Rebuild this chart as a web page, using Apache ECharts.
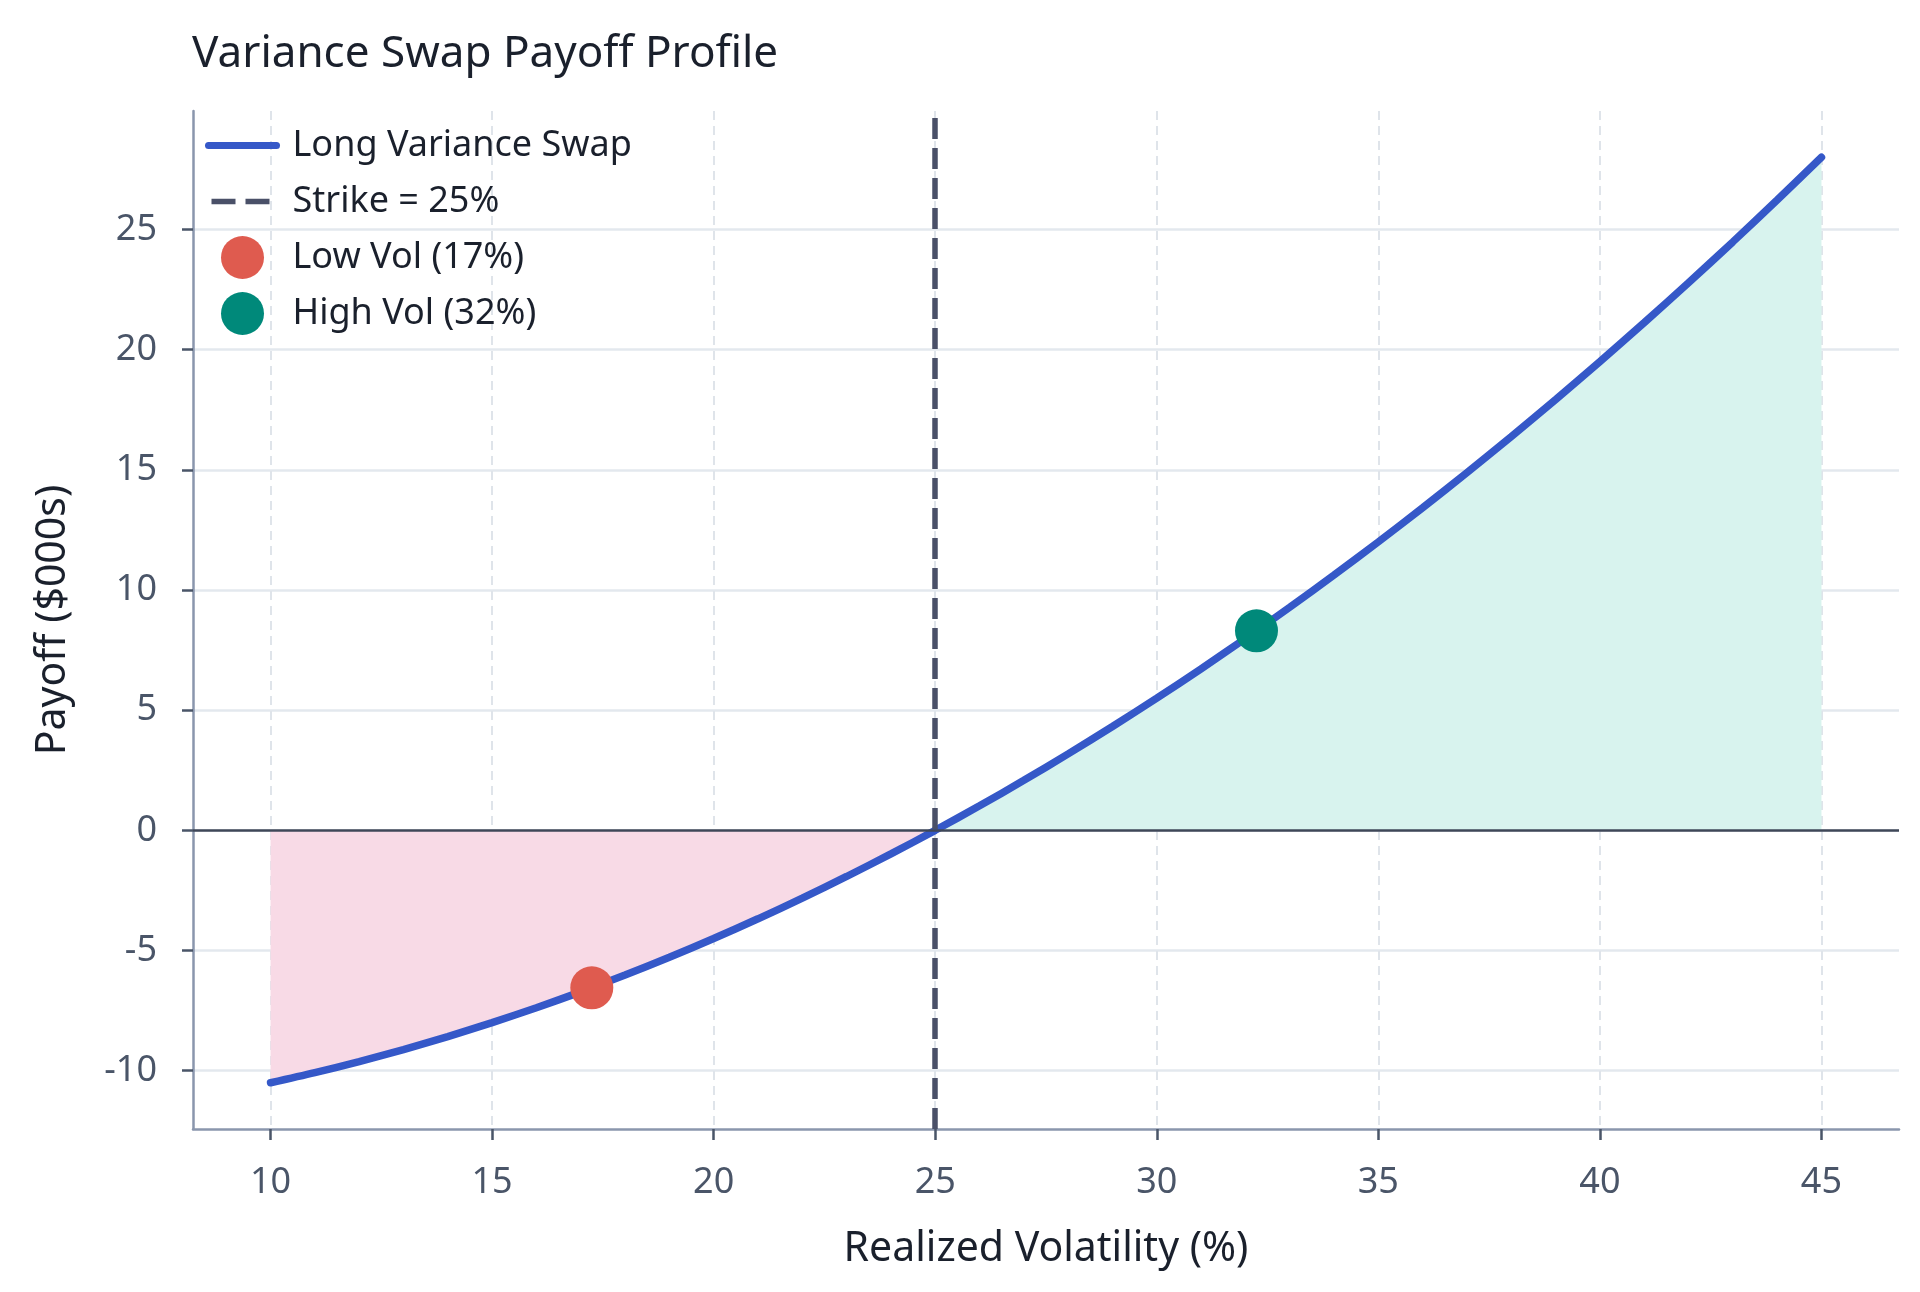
<!DOCTYPE html>
<html>
<head>
<meta charset="utf-8">
<title>Variance Swap Payoff Profile</title>
<script src="https://cdn.jsdelivr.net/npm/echarts@6/dist/echarts.min.js"></script>
<style>
    html, body { margin: 0; padding: 0; background: #ffffff; }
    #chart { width: 1920px; height: 1292px; }
</style>
</head>
<body>
<div id="chart"></div>
<script>
// realized vol (%) and payoff ($000s)
var realizedVol = [10, 11, 12, 13, 14, 15, 16, 17, 18, 19, 20, 21, 22, 23, 24, 25,
    26, 27, 28, 29, 30, 31, 32, 33, 34, 35, 36, 37, 38, 39, 40, 41, 42, 43, 44, 45];
var payoff = [-10.5, -10.08, -9.62, -9.12, -8.58, -8.0, -7.38, -6.72, -6.02, -5.28, -4.5,
    -3.68, -2.82, -1.92, -0.98, 0, 1.02, 2.08, 3.18, 4.32, 5.5, 6.72, 7.98, 9.28, 10.62,
    12.0, 13.42, 14.88, 16.38, 17.92, 19.5, 21.12, 22.78, 24.48, 26.22, 28.0];

var xTicks = [10, 15, 20, 25, 30, 35, 40, 45];
var yTicks = [-10, -5, 0, 5, 10, 15, 20, 25];

var strikeVol = 25;
var lowVol = [17.25, -6.55];
var highVol = [32.25, 8.3];

var fontName = 'Noto Sans';

var curve = [], lossPart = [], gainPart = [];
for (var i = 0; i < realizedVol.length; i++) {
    var p = [realizedVol[i], payoff[i]];
    curve.push(p);
    if (realizedVol[i] <= strikeVol) lossPart.push(p);
    if (realizedVol[i] >= strikeVol) gainPart.push(p);
}

var chart = echarts.init(document.getElementById('chart'), null, {renderer: 'canvas'});

chart.setOption({
    animation: false,
    backgroundColor: '#ffffff',
    title: {
        text: 'Variance Swap Payoff Profile',
        left: 187,
        top: 27,
        textStyle: {
            fontFamily: fontName,
            fontSize: 44,
            fontWeight: 'normal',
            color: '#1a202c'
        }
    },
    legend: {
        orient: 'vertical',
        left: 205,
        top: 124,
        padding: 0,
        itemWidth: 68,
        itemHeight: 43,
        itemGap: 13,
        selectedMode: false,
        textStyle: {
            fontFamily: fontName,
            fontSize: 36,
            lineHeight: 43,
            color: '#1a202c',
            padding: [0, 0, 0, 11]
        },
        data: [
            {name: 'Long Variance Swap', lineStyle: {width: 7}, itemStyle: {opacity: 0}},
            {name: 'Strike = 25%', lineStyle: {width: 5.5, type: [24, 10], dashOffset: 31}, itemStyle: {opacity: 0}},
            {name: 'Low Vol (17%)', icon: 'circle'},
            {name: 'High Vol (32%)', icon: 'circle'}
        ]
    },
    grid: {
        left: 193,
        right: 21,
        top: 111,
        bottom: 163
    },
    xAxis: {
        type: 'value',
        min: 8.25,
        max: 46.75,
        name: 'Realized Volatility (%)',
        nameLocation: 'middle',
        nameGap: 100,
        nameTextStyle: {fontFamily: fontName, fontSize: 41, color: '#1a202c'},
        axisLine: {show: true, onZero: false, lineStyle: {color: '#8a96ad', width: 2.5}},
        axisTick: {show: true, length: 11, customValues: xTicks, lineStyle: {color: '#4a5568', width: 2.5}},
        axisLabel: {
            customValues: xTicks,
            margin: 36,
            fontFamily: fontName,
            fontSize: 36,
            color: '#4a5568'
        },
        splitLine: {show: true, lineStyle: {color: '#dfe4ea', width: 2, type: [9, 6]}}
    },
    yAxis: {
        type: 'value',
        min: -12.425,
        max: 29.925,
        name: 'Payoff ($000s)',
        nameLocation: 'middle',
        nameGap: 119,
        nameTextStyle: {fontFamily: fontName, fontSize: 41, color: '#1a202c'},
        axisLine: {show: true, onZero: false, lineStyle: {color: '#8a96ad', width: 2.5}},
        axisTick: {show: true, length: 11, customValues: yTicks, lineStyle: {color: '#4a5568', width: 2.5}},
        axisLabel: {
            customValues: yTicks,
            margin: 36,
            fontFamily: fontName,
            fontSize: 36,
            color: '#4a5568'
        },
        splitLine: {show: true, lineStyle: {color: '#e3e8ee', width: 2.5}}
    },
    series: [
        {
            name: 'loss',
            type: 'line',
            data: lossPart,
            symbol: 'none',
            silent: true,
            z: 1,
            lineStyle: {width: 0},
            areaStyle: {color: '#f8dae6', opacity: 1}
        },
        {
            name: 'gain',
            type: 'line',
            data: gainPart,
            symbol: 'none',
            silent: true,
            z: 1,
            lineStyle: {width: 0},
            areaStyle: {color: '#d8f3ee', opacity: 1}
        },
        {
            name: 'zero',
            type: 'line',
            data: [],
            silent: true,
            z: 2,
            markLine: {
                symbol: 'none',
                silent: true,
                label: {show: false},
                lineStyle: {color: '#3f4758', width: 2.5, type: 'solid'},
                data: [{yAxis: 0}]
            }
        },
        {
            name: 'Strike = 25%',
            type: 'line',
            data: [],
            symbol: 'none',
            z: 3,
            lineStyle: {color: '#4a5068', width: 5.5, type: [21, 9]},
            markLine: {
                symbol: 'none',
                silent: true,
                label: {show: false},
                lineStyle: {color: '#4a5068', width: 5.5, type: [21, 9]},
                data: [{xAxis: strikeVol}]
            }
        },
        {
            name: 'Long Variance Swap',
            type: 'line',
            data: curve,
            symbol: 'none',
            smooth: 0.3,
            z: 4,
            lineStyle: {color: '#3558c8', width: 7.5, cap: 'round'},
            itemStyle: {color: '#3558c8'}
        },
        {
            name: 'Low Vol (17%)',
            type: 'scatter',
            data: [lowVol],
            symbolSize: 43,
            z: 5,
            itemStyle: {color: '#df5b4f', opacity: 1}
        },
        {
            name: 'High Vol (32%)',
            type: 'scatter',
            data: [highVol],
            symbolSize: 43,
            z: 5,
            itemStyle: {color: '#00897a', opacity: 1}
        }
    ]
});
</script>
</body>
</html>
